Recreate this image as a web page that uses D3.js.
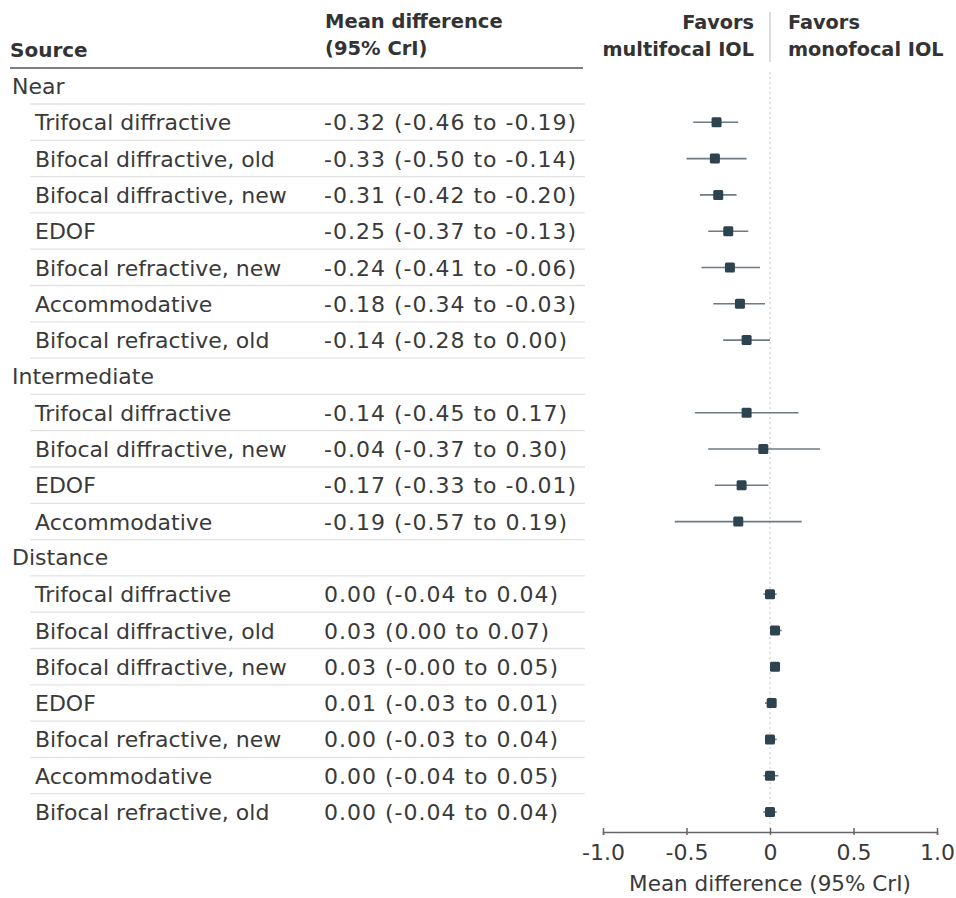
<!DOCTYPE html>
<html><head><meta charset="utf-8">
<script src="https://cdn.jsdelivr.net/npm/d3@7"></script>
<style>
body{margin:0;background:#fff;}
text{font-family:"DejaVu Sans",sans-serif;}
</style></head>
<body>
<svg id="c" width="956" height="898"></svg>
<script>
const groups = ["Near","Intermediate","Distance"];
const labels = [
 ["Trifocal diffractive","Bifocal diffractive, old","Bifocal diffractive, new","EDOF","Bifocal refractive, new","Accommodative","Bifocal refractive, old"],
 ["Trifocal diffractive","Bifocal diffractive, new","EDOF","Accommodative"],
 ["Trifocal diffractive","Bifocal diffractive, old","Bifocal diffractive, new","EDOF","Bifocal refractive, new","Accommodative","Bifocal refractive, old"]
];
const means = [
 [-0.32,-0.33,-0.31,-0.25,-0.24,-0.18,-0.14],
 [-0.14,-0.04,-0.17,-0.19],
 [0.00,0.03,0.03,0.01,0.00,0.00,0.00]
];
const lows = [
 [-0.46,-0.50,-0.42,-0.37,-0.41,-0.34,-0.28],
 [-0.45,-0.37,-0.33,-0.57],
 [-0.04,0.00,-0.00,-0.03,-0.03,-0.04,-0.04]
];
const highs = [
 [-0.19,-0.14,-0.20,-0.13,-0.06,-0.03,0.00],
 [0.17,0.30,-0.01,0.19],
 [0.04,0.07,0.05,0.01,0.04,0.05,0.04]
];
const ciText = [
 ["-0.32 (-0.46 to -0.19)","-0.33 (-0.50 to -0.14)","-0.31 (-0.42 to -0.20)","-0.25 (-0.37 to -0.13)","-0.24 (-0.41 to -0.06)","-0.18 (-0.34 to -0.03)","-0.14 (-0.28 to 0.00)"],
 ["-0.14 (-0.45 to 0.17)","-0.04 (-0.37 to 0.30)","-0.17 (-0.33 to -0.01)","-0.19 (-0.57 to 0.19)"],
 ["0.00 (-0.04 to 0.04)","0.03 (0.00 to 0.07)","0.03 (-0.00 to 0.05)","0.01 (-0.03 to 0.01)","0.00 (-0.03 to 0.04)","0.00 (-0.04 to 0.05)","0.00 (-0.04 to 0.04)"]
];
const tickVals = [-1,-0.5,0,0.5,1];
const tickLabels = ["-1.0","-0.5","0","0.5","1.0"];

// build rows
const rows = [];
groups.forEach((g,gi)=>{
  rows.push({type:"header",label:g});
  labels[gi].forEach((l,i)=>rows.push({type:"item",label:l,mean:means[gi][i],lo:lows[gi][i],hi:highs[gi][i],txt:ciText[gi][i]}));
});

const svg = d3.select("#c");
const x = d3.scaleLinear().domain([-1,1]).range([603,937]);
const y = d3.scaleLinear().domain([0,rows.length-1]).range([86,812]);
const txtCol = "#3a3a3a";
const hdCol = "#333";
const fs = 22;

// header
function hd(t,xx,yy,anchor,size){
  svg.append("text").attr("x",xx).attr("y",yy).attr("text-anchor",anchor||"start").text(t)
    .attr("font-size",size).attr("font-weight","bold").attr("fill",hdCol);
}
hd("Source",10,57,"start",20);
hd("Mean difference",325,28,"start",19.5);
hd("(95% CrI)",325,55,"start",19.5);
hd("Favors",754,29,"end",19.3);
hd("multifocal IOL",754,56,"end",19.3);
hd("Favors",788,29,"start",19.3);
hd("monofocal IOL",788,56,"start",19.3);
svg.append("line").attr("x1",x(0)).attr("x2",x(0)).attr("y1",12).attr("y2",62).attr("stroke","#c4c4c4").attr("stroke-width",1.2);
svg.append("line").attr("x1",10).attr("x2",583).attr("y1",68).attr("y2",68).attr("stroke","#555").attr("stroke-width",1.6);

// row separators
rows.forEach((r,i)=>{
  if(i<rows.length-1){
    svg.append("line").attr("x1",30).attr("x2",585)
      .attr("y1",y(i)+18).attr("y2",y(i)+18).attr("stroke","#e3e3e3").attr("stroke-width",1.3);
  }
});

// zero line
svg.append("line").attr("x1",x(0)).attr("x2",x(0)).attr("y1",72).attr("y2",832)
  .attr("stroke","#c4c4c4").attr("stroke-width",1).attr("stroke-dasharray","2,3");

const g = svg.selectAll("g.row").data(rows).join("g").attr("class","row")
  .attr("transform",(d,i)=>`translate(0,${y(i)})`);
g.append("text").attr("x",d=>d.type==="header"?12:35).attr("y",d=>d.type==="header"?7.5:8)
  .text(d=>d.label).attr("font-size",fs).attr("fill",txtCol);
const items = g.filter(d=>d.type==="item");
items.append("text").attr("x",324).attr("y",8).text(d=>d.txt).attr("font-size",fs)
  .attr("letter-spacing",1).attr("fill",txtCol);
items.append("line").attr("x1",d=>x(d.lo)).attr("x2",d=>x(d.hi)).attr("y1",0).attr("y2",0)
  .attr("stroke","#6d7b84").attr("stroke-width",1.6);
items.append("rect").attr("x",d=>x(d.mean)-5).attr("y",-5).attr("width",10).attr("height",10)
  .attr("rx",1.5).attr("fill","#2e4350");

// axis
const ax = svg.append("g").attr("transform","translate(0,832)")
  .call(d3.axisBottom(x).tickValues(tickVals).tickSize(3).tickPadding(9).tickFormat((d,i)=>tickLabels[i]));
ax.select(".domain").attr("stroke","#666").attr("stroke-width",1.5);
ax.selectAll(".tick line").attr("stroke","#666").attr("stroke-width",1.5).attr("y1",-4);
ax.selectAll(".tick text").attr("font-size",fs).attr("fill",txtCol).attr("font-family","'DejaVu Sans',sans-serif");
svg.append("text").attr("x",x(0)).attr("y",891).attr("text-anchor","middle").text("Mean difference (95% CrI)")
  .attr("font-size",21.5).attr("fill",txtCol);
</script>
</body></html>
